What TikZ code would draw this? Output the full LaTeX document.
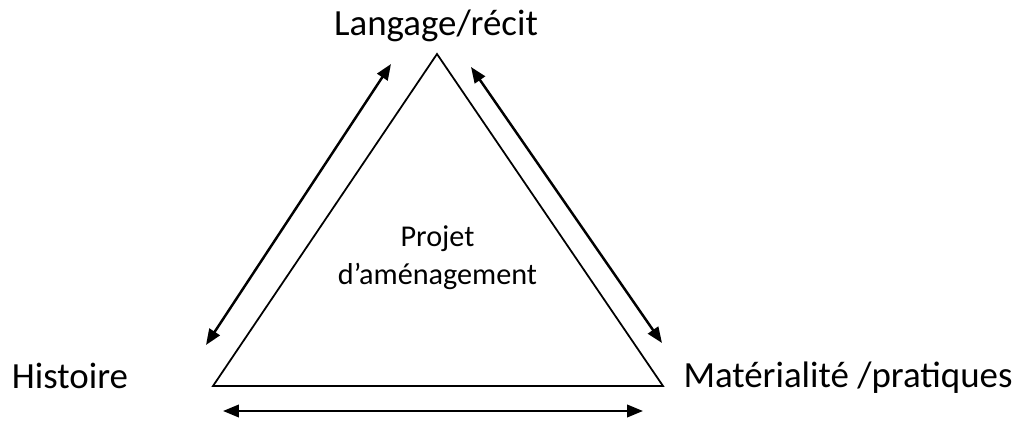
\documentclass[tikz,border=0pt]{standalone}
\usepackage{fontspec}
\setmainfont{Carlito}
\usetikzlibrary{arrows.meta,positioning}

\begin{document}
\begin{tikzpicture}[
      x=0.02cm, y=-0.02cm,
      pole/.style={anchor=base, inner sep=0pt, font=\fontsize{21}{25}\selectfont},
      centre/.style={anchor=base, inner sep=0pt, font=\fontsize{17.2}{21}\selectfont},
      link/.style={<->, line width=1.4pt, >={Triangle[length=9pt,width=7pt]}}
    ]
    \useasboundingbox (0,0) rectangle (1022,422);
    % triangle
    \coordinate (top) at (437,54);
    \coordinate (left) at (213,386);
    \coordinate (right) at (663,386);
    \draw[line width=1pt] (top) -- (left) -- (right) -- cycle;
    % labels
    \node[pole] (langage) at (436,36) {Langage/récit};
    \node[pole] (histoire) at (70,389) {Histoire};
    \node[pole] (materialite) at (848,388) {Matérialité /pratiques};
    \node[centre] (projet) at (437.5,247) {Projet};
    \node[centre] (amenagement) at (437.5,285) {d’aménagement};
    % arrows
    \coordinate (a1) at (391,64);
    \coordinate (a2) at (206,345);
    \coordinate (b1) at (471,67);
    \coordinate (b2) at (662,343);
    \coordinate (c1) at (223,411);
    \coordinate (c2) at (643,411);
    \draw[link] (a1) -- (a2);
    \draw[link] (b1) -- (b2);
    \draw[link] (c1) -- (c2);
  \end{tikzpicture}
\end{document}
